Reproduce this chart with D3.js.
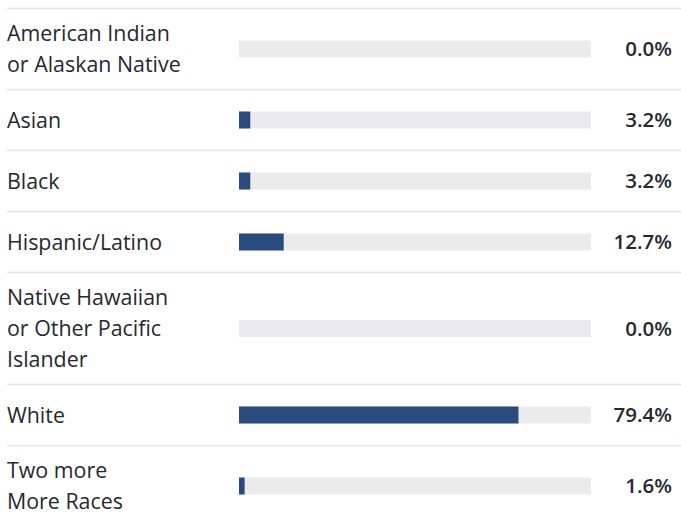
<!DOCTYPE html>
<html><head><meta charset="utf-8">
<script src="https://cdn.jsdelivr.net/npm/d3@7"></script>
<style>body{margin:0;background:#fff;font-family:"Open Sans",sans-serif;}</style>
</head><body><svg id="c" width="681" height="514"></svg>
<script>
const categories = [
  ["American Indian","or Alaskan Native"],
  ["Asian"],
  ["Black"],
  ["Hispanic/Latino"],
  ["Native Hawaiian","or Other Pacific","Islander"],
  ["White"],
  ["Two more","More Races"]
];
const values = [0.0, 3.2, 3.2, 12.7, 0.0, 79.4, 1.6];
const valueLabels = ["0.0%","3.2%","3.2%","12.7%","0.0%","79.4%","1.6%"];

const svg = d3.select("#c");
const lineH = 31, top0 = 8;
const heights = categories.map(c => Math.max(61, c.length*lineH + 19));
const tops = [];
let acc = top0;
heights.forEach(h => { tops.push(acc); acc += h; });

const x = d3.scaleLinear().domain([0,100]).range([239,591]);

const rows = svg.selectAll("g.row").data(categories).join("g").attr("class","row")
  .attr("transform",(d,i)=>`translate(0,${tops[i]})`);

rows.append("line").attr("x1",7).attr("x2",681).attr("y1",0.5).attr("y2",0.5)
  .attr("stroke","#e1e5e9").attr("stroke-width",1.5);

rows.each(function(d,i){
  const g = d3.select(this);
  const h = heights[i], cy = h/2;
  const t = g.append("text").attr("x",7).attr("fill","#25292f").attr("font-size",21.4);
  d.forEach((ln,j)=>{
    t.append("tspan").attr("x",7)
      .attr("y", cy + (j - (d.length-1)/2)*lineH + 8).text(ln);
  });
  g.append("rect").attr("x",x(0)).attr("y",cy-8).attr("width",x(100)-x(0)).attr("height",17)
    .attr("fill","#ebebed");
  g.append("rect").attr("x",x(0)).attr("y",cy-8).attr("width",x(values[i])-x(0)).attr("height",17)
    .attr("fill","#2b4b7f");
  g.append("text").attr("x",672).attr("y",cy+7.5).attr("text-anchor","end")
    .attr("font-size",20.5).attr("font-weight",600).attr("fill","#25292f").text(valueLabels[i]);
});
</script></body></html>
